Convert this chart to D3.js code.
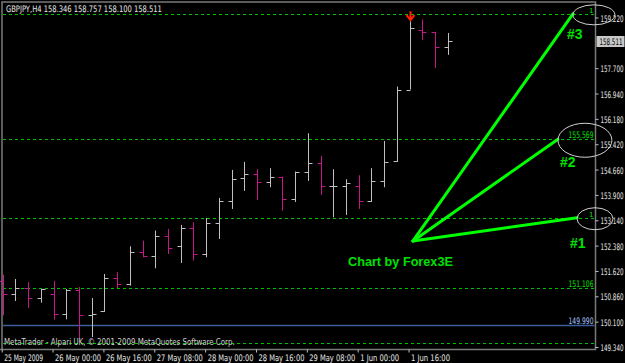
<!DOCTYPE html>
<html>
<head>
<meta charset="utf-8">
<script src="https://cdn.jsdelivr.net/npm/d3@7"></script>
<style>
  html, body { margin: 0; padding: 0; background: #000; }
  svg { display: block; }
  .px { font-family: "DejaVu Sans", sans-serif; font-size: 9px; }
</style>
</head>
<body>
<svg id="chart" width="625" height="363"></svg>
<script>
// GBPJPY H4 OHLC bars, index 0 = 25 May 2009 08:00
const opens  = [151.32,150.94,151.11,150.82,150.94,150.33,151.06,150.31,150.41,151.42,151.23,152.18,
                152.08,152.68,152.37,152.90,152.13,153.06,153.72,154.42,154.54,154.30,154.45,153.78,
                154.60,154.87,154.17,154.17,154.17,153.72,154.32,154.92,157.06,158.86,158.79,158.346];
const highs  = [151.51,151.38,151.29,151.08,151.32,151.08,151.14,150.81,151.53,151.58,152.36,152.53,
                152.83,152.88,153.00,153.08,153.21,153.81,154.65,154.89,154.67,154.70,154.45,154.60,
                155.75,155.07,154.67,154.37,154.49,154.70,155.52,157.15,159.11,159.16,158.79,158.757];
const lows   = [150.29,150.72,150.51,150.67,150.16,150.17,149.59,149.64,150.39,151.11,151.18,152.03,
                151.70,152.13,151.86,151.93,152.03,152.58,153.48,154.02,153.75,154.13,153.43,153.69,
                154.32,153.90,153.23,153.30,153.48,153.69,154.13,154.89,157.06,158.54,157.71,158.100];
const closes = [150.94,151.11,150.82,151.08,150.34,151.06,150.31,150.34,151.42,151.24,152.18,152.08,
                152.68,152.30,152.90,152.13,153.05,153.71,154.39,154.54,154.30,154.44,153.78,154.59,
                154.87,154.17,154.18,154.27,153.72,154.32,154.89,157.04,158.91,158.79,158.35,158.511];

// 158.460 sits under the current price box, so it is not listed
const priceTicks = [149.34,150.10,150.86,151.62,152.38,153.14,153.90,154.66,155.42,156.18,156.94,157.70,159.22];
const dateTicks  = [0,4,8,12,16,20,24,28,32];
const dateLabels = ['25 May 2009','26 May 00:00','26 May 16:00','27 May 08:00','28 May 00:00',
                    '28 May 16:00','29 May 08:00','1 Jun 00:00','1 Jun 16:00'];

// horizontal levels drawn on the chart
const levelPrices = [159.33, 155.569, 153.216, 151.106];
const levelTexts  = ['1', '155.569', '1', '151.106'];
const bluePrice = 149.990;
const lastPrice = 158.511;

// fan annotation: origin and three targets (bar index, price)
const fanOrigin = [32.27, 152.52];
const fanTargets = [[44.85, 159.33], [43.67, 155.569], [45.17, 153.216]];
const fanNames = ['#3', '#2', '#1'];

const svg = d3.select('#chart');
const W = 625, H = 363;
const plotR = 595.5, plotB = 349.5;

const x = d3.scaleLinear().domain([0, 35]).range([2.7, 447.7]);
const y = d3.scaleLinear().domain([149.34, 159.22]).range([347, 17.5]);

const BULL = '#c0c0c0', BEAR = '#c8168c';

// squeeze a small text horizontally so it spans `w` pixels (MT4 raster font is narrow)
function fitText(sel, w) {
  sel.each(function () {
    const t = d3.select(this);
    const nat = this.getComputedTextLength();
    const tx = +t.attr('x') || 0, ty = +t.attr('y') || 0;
    t.attr('x', 0).attr('y', 0);
    t.attr('transform', `translate(${tx},${ty}) scale(${w / nat},1)`);
  });
}

svg.append('rect').attr('width', W).attr('height', H).attr('fill', '#000');

// frame
svg.append('path')
  .attr('d', `M2,${plotB}V2H${plotR}V${plotB}H0`)
  .attr('fill', 'none').attr('stroke', '#7a7a7a').attr('stroke-width', 1.5);

// blue level
const by = Math.round(y(bluePrice)) + 0.5;
svg.append('line')
  .attr('x1', 3).attr('x2', plotR - 1).attr('y1', by).attr('y2', by)
  .attr('stroke', '#3c5c9c').attr('stroke-width', 1.5);
svg.append('text').attr('class', 'px')
  .attr('x', plotR - 2).attr('y', by - 2)
  .attr('text-anchor', 'end').attr('fill', '#a8c4ff')
  .text(bluePrice.toFixed(3))
  .call(fitText, 25);

// dashed green levels
const lev = svg.append('g');
levelPrices.forEach((p, k) => {
  const yy = Math.round(y(p)) + 0.5;
  lev.append('line')
    .attr('x1', 3).attr('x2', plotR - 1).attr('y1', yy).attr('y2', yy)
    .attr('stroke', '#00c000').attr('stroke-dasharray', '3,3');
  const t = lev.append('text').attr('class', 'px')
    .attr('x', plotR - 2).attr('y', yy - 2)
    .attr('text-anchor', 'end').attr('fill', '#00e000')
    .text(levelTexts[k]);
  if (levelTexts[k].length > 1) t.call(fitText, 25);
  else t.style('font-size', '7px');
});
// bottom dashed line
const bd = Math.round(y(149.461)) + 0.5;
svg.append('line')
  .attr('x1', 3).attr('x2', plotR - 1).attr('y1', bd).attr('y2', bd)
  .attr('stroke', '#00c000').attr('stroke-dasharray', '3,3');

// OHLC bars
const bars = svg.append('g').attr('stroke-width', 1);
d3.range(opens.length).forEach(i => {
  const cx = Math.round(x(i)) + 0.5;
  const col = closes[i] >= opens[i] ? BULL : BEAR;
  bars.append('line').attr('x1', cx).attr('x2', cx)
    .attr('y1', y(highs[i])).attr('y2', y(lows[i])).attr('stroke', col);
  bars.append('line').attr('x1', cx - 4).attr('x2', cx)
    .attr('y1', Math.round(y(opens[i])) + 0.5).attr('y2', Math.round(y(opens[i])) + 0.5).attr('stroke', col);
  bars.append('line').attr('x1', cx).attr('x2', cx + 4)
    .attr('y1', Math.round(y(closes[i])) + 0.5).attr('y2', Math.round(y(closes[i])) + 0.5).attr('stroke', col);
});

// red arrow above bar 32
const ax = Math.round(x(32)) + 0.5, ay = y(highs[32]);
svg.append('path')
  .attr('d', `M${ax},${ay - 10}V${ay - 2}M${ax - 4},${ay - 6}L${ax},${ay - 1}L${ax + 4},${ay - 6}`)
  .attr('fill', 'none').attr('stroke', '#ff2000').attr('stroke-width', 2);

// fan lines
const fan = svg.append('g');
const ox = x(fanOrigin[0]), oy = y(fanOrigin[1]);
fanTargets.forEach(t => {
  fan.append('line')
    .attr('x1', ox).attr('y1', oy).attr('x2', x(t[0])).attr('y2', y(t[1]))
    .attr('stroke', '#00ff00').attr('stroke-width', 3).attr('stroke-linecap', 'round');
});
// ellipses around the targets
const ellR = [[21, 10], [27, 17], [18, 11]];
fanTargets.forEach((t, k) => {
  fan.append('ellipse')
    .attr('cx', x(t[0]) + ellR[k][0]).attr('cy', y(t[1]) + 1)
    .attr('rx', ellR[k][0]).attr('ry', ellR[k][1])
    .attr('fill', 'none').attr('stroke', '#d0d0d0').attr('stroke-width', 1);
});
const nameOff = [[-6, 25], [2, 28], [-7, 30]];
fanTargets.forEach((t, k) => {
  fan.append('text')
    .attr('x', x(t[0]) + nameOff[k][0]).attr('y', y(t[1]) + nameOff[k][1])
    .attr('fill', '#00e000')
    .style('font', 'bold 14px "Liberation Sans", Arial, sans-serif')
    .text(fanNames[k]);
});
fan.append('text')
  .attr('x', ox - 65).attr('y', oy + 25)
  .attr('fill', '#00e000')
  .style('font', 'bold 13px "Liberation Sans", Arial, sans-serif')
  .text('Chart by Forex3E')
  .call(fitText, 105);

// right price axis
const yAxis = d3.axisRight(y).tickValues(priceTicks).tickFormat(d3.format('.3f')).tickSize(3).tickPadding(2);
const gy = svg.append('g').attr('transform', `translate(${plotR},0)`).call(yAxis);
gy.select('.domain').remove();
gy.selectAll('line').attr('stroke', '#c0c0c0');
gy.selectAll('text').attr('class', 'px').attr('fill', '#e8e8e8').attr('dy', null).attr('y', 3.5)
  .call(fitText, 23);

// current price box
const lp = Math.round(y(lastPrice));
svg.append('rect').attr('x', plotR + 1).attr('y', lp - 5).attr('width', 28).attr('height', 11).attr('fill', '#c8c8c8');
svg.append('text').attr('class', 'px')
  .attr('x', plotR + 4).attr('y', lp + 3.5)
  .attr('fill', '#000')
  .text(lastPrice.toFixed(3))
  .call(fitText, 23);

// bottom time axis
const xAxis = d3.axisBottom(x).tickValues(dateTicks).tickFormat((d, k) => dateLabels[k]).tickSize(3).tickPadding(2);
const gx = svg.append('g').attr('transform', `translate(-1,${plotB})`).call(xAxis);
gx.select('.domain').remove();
gx.selectAll('line').attr('stroke', '#c0c0c0');
gx.selectAll('text').attr('class', 'px').attr('fill', '#e8e8e8')
  .attr('text-anchor', 'start').attr('dy', null).attr('x', 2).attr('y', 11)
  .each(function (d, k) { d3.select(this).call(fitText, dateLabels[k].length > 11 ? 46 : 39); });

// title and copyright
svg.append('text').attr('class', 'px')
  .attr('x', 6).attr('y', 11.5).attr('fill', '#e8e8e8')
  .text('GBPJPY,H4  158.346 158.757 158.100 158.511')
  .call(fitText, 156);
svg.append('text').attr('class', 'px')
  .attr('x', 4).attr('y', 345).attr('fill', '#d0d0d0')
  .text('MetaTrader - Alpari UK, \u00a9 2001-2009 MetaQuotes Software Corp.')
  .call(fitText, 231);
</script>
</body>
</html>
